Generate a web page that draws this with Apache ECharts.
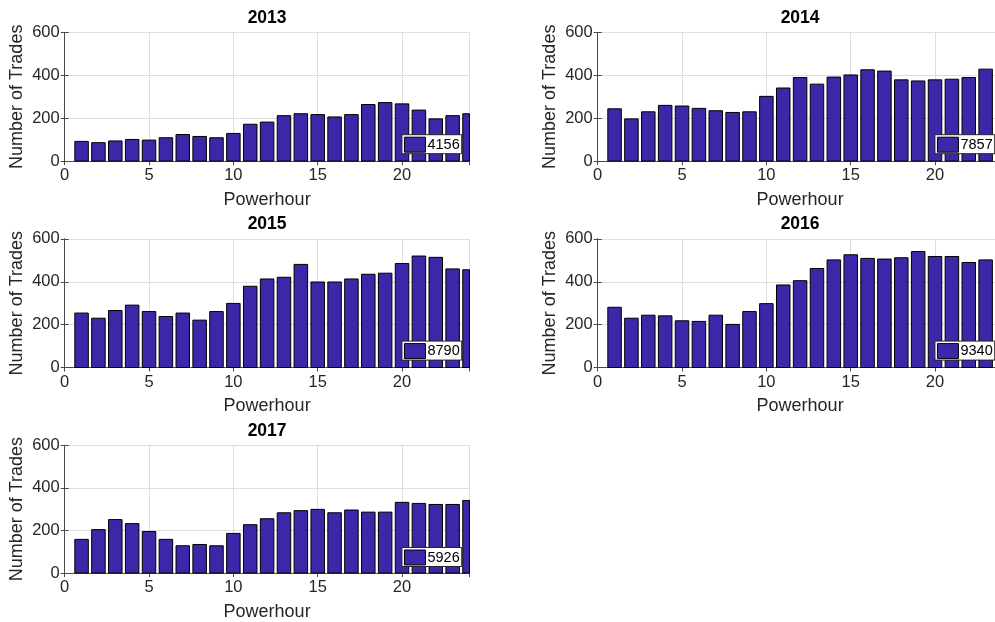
<!DOCTYPE html>
<html>
<head>
<meta charset="utf-8">
<script src="https://cdn.jsdelivr.net/npm/echarts@6/dist/echarts.min.js"></script>
<style>
  html, body { margin: 0; padding: 0; background: #fff; overflow: hidden; width: 995px; height: 622px; }
  #chart { width: 1012px; height: 622px; }
</style>
</head>
<body>
<div id="chart"></div>
<script>
// Trades per power hour, one panel per year
const years = ['2013', '2014', '2015', '2016', '2017'];
const hours = [1, 2, 3, 4, 5, 6, 7, 8, 9, 10, 11, 12, 13, 14, 15, 16, 17, 18, 19, 20, 21, 22, 23, 24];

const trades2013 = [92, 86, 94, 101, 98, 109, 124, 115, 109, 129, 172, 182, 212, 221, 217, 206, 217, 264, 273, 267, 238, 197, 212, 221];
const trades2014 = [244, 197, 230, 260, 257, 246, 235, 227, 230, 302, 341, 390, 359, 392, 402, 426, 420, 379, 374, 379, 382, 390, 429, 366];
const trades2015 = [254, 230, 266, 291, 261, 238, 254, 221, 261, 299, 379, 413, 421, 481, 399, 399, 413, 435, 440, 485, 520, 514, 460, 456];
const trades2016 = [281, 230, 244, 241, 218, 215, 244, 201, 261, 298, 385, 405, 462, 502, 526, 509, 506, 512, 541, 518, 518, 490, 502, 531];
const trades2017 = [158, 204, 251, 232, 195, 158, 128, 134, 128, 186, 227, 255, 283, 293, 299, 283, 296, 286, 286, 332, 327, 322, 322, 341];

// yearly totals shown in each legend
const totals = ['4156', '7857', '8790', '9340', '5926'];

const xTicks = [0, 5, 10, 15, 20];
const xMax = 24;
const yTicks = [0, 200, 400, 600];

const xLabel = 'Powerhour';
const yLabel = 'Number of Trades';

const panelValues = [trades2013, trades2014, trades2015, trades2016, trades2017];

// the figure is a little wider than the window; the right column runs past its edge
const W = 1012, H = 622;
const FONT = "'Liberation Sans', Arial, Helvetica, sans-serif";
const BAR = '#3e26a8';
const AXIS = '#4a4a4a';
const TEXT = '#262626';
const GRIDLINE = '#dedede';
const BAR_FRACTION = 0.8;   // bar width as a share of one hour

const colLeft = [64.7, 597.7];
const rowTop = [32.5, 238.9, 445.3];
const plotW = 404.8, plotH = 128.6;

// bars drawn through the axis scales and clipped to the plot box
function renderBar(params, api) {
  const x = api.value(0);
  const y = api.value(1);
  const half = BAR_FRACTION / 2;
  const p0 = api.coord([x - half, y]);
  const p1 = api.coord([x + half, 0]);
  const cs = params.coordSys;
  const shape = echarts.graphic.clipRectByRect(
    { x: p0[0], y: p0[1], width: p1[0] - p0[0], height: p1[1] - p0[1] },
    { x: cs.x, y: cs.y, width: cs.width, height: cs.height }
  );
  if (!shape) return null;
  return {
    type: 'rect',
    shape: shape,
    style: { fill: BAR, stroke: '#000', lineWidth: 1 }
  };
}

const grids = [], xAxes = [], yAxes = [], series = [], legends = [], titles = [];

panelValues.forEach((vals, k) => {
  const left = colLeft[k % 2];
  const top = rowTop[Math.floor(k / 2)];
  grids.push({ left: left, top: top, width: plotW, height: plotH, containLabel: false });

  const xBase = {
    gridIndex: k, type: 'value', min: xTicks[0], max: xMax,
    interval: xTicks[1] - xTicks[0],
    axisLine: { show: true, lineStyle: { color: AXIS, width: 1 } },
    axisTick: { show: true, inside: true, length: 4, lineStyle: { color: AXIS } }
  };
  xAxes.push(Object.assign({}, xBase, {
    position: 'bottom',
    name: xLabel, nameLocation: 'middle', nameGap: 30,
    nameTextStyle: { fontFamily: FONT, fontSize: 18, color: TEXT },
    axisLabel: { show: true, margin: 6, fontFamily: FONT, fontSize: 16.5, color: TEXT, showMaxLabel: false },
    splitLine: { show: true, lineStyle: { color: GRIDLINE, width: 1 } }
  }));
  xAxes.push(Object.assign({}, xBase, {
    position: 'top',
    axisLabel: { show: false },
    splitLine: { show: false }
  }));

  const yBase = {
    gridIndex: k, type: 'value', min: yTicks[0], max: yTicks[yTicks.length - 1],
    interval: yTicks[1] - yTicks[0],
    axisLine: { show: true, lineStyle: { color: AXIS, width: 1 } },
    axisTick: { show: true, inside: true, length: 4, lineStyle: { color: AXIS } }
  };
  yAxes.push(Object.assign({}, yBase, {
    position: 'left',
    name: yLabel, nameLocation: 'middle', nameGap: 39,
    nameTextStyle: { fontFamily: FONT, fontSize: 18, color: TEXT },
    axisLabel: { show: true, margin: 5, fontFamily: FONT, fontSize: 16.5, color: TEXT },
    splitLine: { show: true, lineStyle: { color: GRIDLINE, width: 1 } }
  }));
  yAxes.push(Object.assign({}, yBase, {
    position: 'right',
    axisLabel: { show: false },
    splitLine: { show: false }
  }));

  series.push({
    name: totals[k],
    type: 'custom',
    xAxisIndex: 2 * k,
    yAxisIndex: 2 * k,
    renderItem: renderBar,
    encode: { x: 0, y: 1 },
    data: hours.map((h, i) => [h, vals[i]]),
    itemStyle: { color: BAR, borderColor: '#000', borderWidth: 1 },
    z: 1,
    animation: false
  });

  legends.push({
    data: [totals[k]],
    right: W - (left + plotW - 7.8),
    bottom: H - (top + plotH - 7.4),
    orient: 'horizontal',
    icon: 'rect',
    itemWidth: 21,
    itemHeight: 15,
    padding: [2, 2, 1, 2],
    backgroundColor: '#fff',
    borderColor: '#262626',
    borderWidth: 1,
    borderRadius: 0,
    selectedMode: false,
    itemStyle: { color: BAR, borderColor: '#000', borderWidth: 1 },
    textStyle: { fontFamily: FONT, fontSize: 14.5, color: '#000', padding: [0, 0, 0, -3] }
  });

  titles.push({
    text: years[k],
    left: left + plotW / 2,
    top: top - 23.5,
    textAlign: 'center',
    padding: 0,
    textStyle: { fontFamily: FONT, fontSize: 17.5, fontWeight: 'bold', color: '#000' }
  });
});

const chart = echarts.init(document.getElementById('chart'), null, { renderer: 'canvas', width: W, height: H });
chart.setOption({
  backgroundColor: '#fff',
  animation: false,
  title: titles,
  legend: legends,
  grid: grids,
  xAxis: xAxes,
  yAxis: yAxes,
  series: series
});
</script>
</body>
</html>
